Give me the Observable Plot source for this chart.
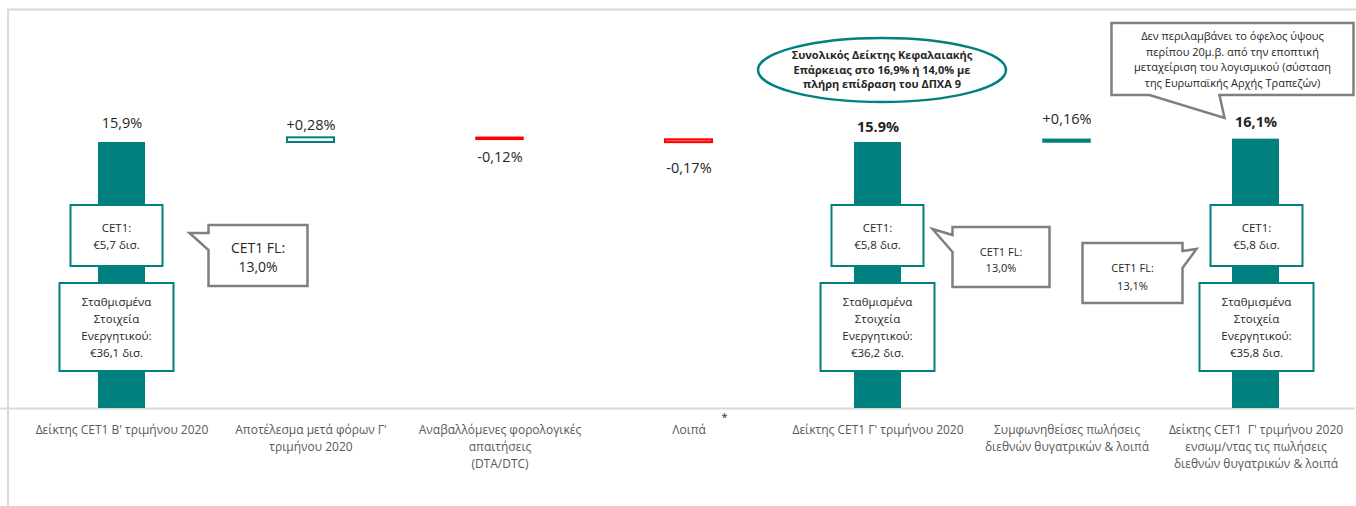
<!DOCTYPE html>
<html><head><meta charset="utf-8">
<script src="https://cdn.jsdelivr.net/npm/d3@7"></script>
<script src="https://cdn.jsdelivr.net/npm/@observablehq/plot@0.6"></script>
<style>body{margin:0;background:#fff;} svg{display:block;}</style>
</head><body><div id="chart"></div>
<script>
// ---------- data ----------
const categories = [
  "Δείκτης CET1 Β' τριμήνου 2020",
  "Αποτέλεσμα μετά φόρων Γ'\nτριμήνου 2020",
  "Αναβαλλόμενες φορολογικές\nαπαιτήσεις\n(DTA/DTC)",
  "Λοιπά",
  "Δείκτης CET1 Γ' τριμήνου 2020",
  "Συμφωνηθείσες πωλήσεις\nδιεθνών θυγατρικών & λοιπά",
  "Δείκτης CET1  Γ' τριμήνου 2020\nενσωμ/ντας τις πωλήσεις\nδιεθνών θυγατρικών & λοιπά"
];
const values = [15.9, 0.28, -0.12, -0.17, 15.9, 0.16, 16.1];
const kinds = ["total", "delta", "delta", "delta", "total", "delta", "total"];
const valueLabels = ["15,9%", "+0,28%", "-0,12%", "-0,17%", "15.9%", "+0,16%", "16,1%"];
const cet1Labels = [["CET1:", "€5,7 δισ."], ["CET1:", "€5,8 δισ."], ["CET1:", "€5,8 δισ."]];
const rwaLabels = [
  ["Σταθμισμένα", "Στοιχεία", "Ενεργητικού:", "€36,1 δισ."],
  ["Σταθμισμένα", "Στοιχεία", "Ενεργητικού:", "€36,2 δισ."],
  ["Σταθμισμένα", "Στοιχεία", "Ενεργητικού:", "€35,8 δισ."]
];
const flLabels = [["CET1 FL:", "13,0%"], ["CET1 FL:", "13,0%"], ["CET1 FL:", "13,1%"]];
const ellipseLines = ["Συνολικός Δείκτης Κεφαλαιακής", "Επάρκειας στο 16,9% ή 14,0% με", "πλήρη επίδραση του ΔΠΧΑ 9"];
const noteLines = ["Δεν περιλαμβάνει το όφελος ύψους", "περίπου 20μ.β. από την εποπτική", "μεταχείριση του λογισμικού (σύσταση", "της Ευρωπαϊκής Αρχής Τραπεζών)"];

// ---------- waterfall table ----------
let run = 0;
const rows = categories.map((cat, i) => {
  const v = values[i];
  let lo, hi;
  if (kinds[i] === "total") { lo = 0; hi = v; run = v; }
  else { lo = Math.min(run, run + v); hi = Math.max(run, run + v); run += v; }
  return {cat, i, v, lo, hi, kind: kinds[i], label: valueLabels[i]};
});

const TEAL = "#00807F", RED = "#FF0000";
const FONT = "Open Sans, sans-serif";
const barStyle = {
  0: {fill: TEAL, stroke: "none", sw: 0},
  1: {fill: "#ffffff", stroke: TEAL, sw: 2},
  2: {fill: RED, stroke: RED, sw: 1.5},
  3: {fill: "#FF8A8A", stroke: RED, sw: 2},
  4: {fill: TEAL, stroke: "none", sw: 0},
  5: {fill: TEAL, stroke: TEAL, sw: 1.5},
  6: {fill: TEAL, stroke: "none", sw: 0}
};
const labelDy = [-19, -12, 18, 26, -15, -20, -17];
const labelBold = [false, false, false, false, true, false, true];

const plot = Plot.plot({
  width: 1356, height: 506,
  style: {fontFamily: FONT, background: "#fff"},
  x: {domain: categories, range: [25, 1351], paddingInner: 0.752, paddingOuter: 0.379, axis: null},
  y: {domain: [0, 20], range: [408, 73.4], axis: null},
  marks: [
    Plot.ruleY([0], {stroke: "#D9D9D9", strokeWidth: 2}),
    ...rows.map(r => Plot.barY([r], {x: "cat", y1: "lo", y2: "hi",
      fill: barStyle[r.i].fill, stroke: barStyle[r.i].stroke, strokeWidth: barStyle[r.i].sw})),
    ...rows.map(r => Plot.text([r], {x: "cat", y: r.v < 0 ? "lo" : "hi", text: "label",
      dy: labelDy[r.i], lineAnchor: "middle", fontSize: 14.5, fill: "#262626",
      fontWeight: labelBold[r.i] ? "bold" : "normal"})),
    Plot.text(categories, {x: d => d, y: 0, text: d => d, lineAnchor: "top", dy: 13,
      fontSize: 12, lineHeight: 1.42, fill: "#595959"})
  ]
});
document.getElementById("chart").appendChild(plot);

// ---------- annotations ----------
const svg = d3.select(plot);
const xs = plot.scale("x"), ys = plot.scale("y");
const cx = i => xs.apply(categories[i]) + xs.bandwidth / 2;
const base = ys.apply(0);
const g = svg.append("g").attr("font-family", FONT);

// slide frame
g.append("line").attr("x1", 7).attr("x2", 1356).attr("y1", 9.5).attr("y2", 9.5).attr("stroke", "#D9D9D9").attr("stroke-width", 2);
g.append("line").attr("x1", 8).attr("x2", 8).attr("y1", 9).attr("y2", 506).attr("stroke", "#D9D9D9").attr("stroke-width", 2);

function textBlock(x, yc, lines, fs, lh, weight) {
  const t = g.append("text").attr("text-anchor", "middle").attr("font-size", fs)
    .attr("fill", "#262626").attr("font-weight", weight || "normal");
  lines.forEach((s, k) => t.append("tspan").attr("x", x)
    .attr("y", yc + (k - (lines.length - 1) / 2) * lh).attr("dominant-baseline", "central").text(s));
}
function boxPath(x, y, w, h, ptr) {
  if (!ptr) return `M${x},${y}H${x + w}V${y + h}H${x}Z`;
  if (ptr.side === "left") return `M${x},${y}H${x + w}V${y + h}H${x}V${y + 25}L${ptr.tx},${ptr.ty}L${x},${y + 8}Z`;
  if (ptr.side === "right") return `M${x},${y}H${x + w}V${y + 8}L${ptr.tx},${ptr.ty}L${x + w},${y + 25}V${y + h}H${x}Z`;
  return `M${x},${y}H${x + w}V${y + h}H${ptr.b2}L${ptr.tx},${ptr.ty}L${ptr.b1},${y + h}H${x}Z`;
}
function callout({x, y, w, h, stroke, sw, lines, fs, lh, ptr, weight, tyOff}) {
  g.append("path").attr("d", boxPath(x, y, w, h, ptr)).attr("fill", "#fff")
    .attr("stroke", stroke).attr("stroke-width", sw).attr("stroke-linejoin", "miter");
  textBlock(x + w / 2, y + h / 2 + (tyOff || 0), lines, fs, lh, weight);
}

const totalsIdx = [0, 4, 6];
const boxDx = [-5, 0, 1];
totalsIdx.forEach((bi, k) => {
  const c = cx(bi) + boxDx[k];
  callout({x: c - 46, y: base - 203, w: 92, h: 61, stroke: TEAL, sw: 2, lines: cet1Labels[k], fs: 11.5, lh: 17});
  callout({x: c - 57, y: base - 125, w: 114, h: 88, stroke: TEAL, sw: 2, lines: rwaLabels[k], fs: 11.5, lh: 16.8});
});

// CET1 FL gray callouts
const GRAY = "#7F7F7F";
{
  const c = cx(0), x = c + 87, y = base - 183;
  callout({x, y, w: 99, h: 61, stroke: GRAY, sw: 2.5, lines: flLabels[0], fs: 14, lh: 19, tyOff: 1,
    ptr: {side: "left", tx: x - 19, ty: y + 8}});
}
{
  const c = cx(4), x = c + 75, y = base - 181;
  callout({x, y, w: 97, h: 60, stroke: GRAY, sw: 2.5, lines: flLabels[1], fs: 11, lh: 16, tyOff: 2,
    ptr: {side: "left", tx: x - 20, ty: y + 2}});
}
{
  const c = cx(6), x = c - 173, y = base - 165;
  callout({x, y, w: 100, h: 60, stroke: GRAY, sw: 2.5, lines: flLabels[2], fs: 11, lh: 18, tyOff: 3,
    ptr: {side: "right", tx: x + 114, ty: y + 6}});
}
// top note callout
{
  const c = cx(6), x = c - 144, y = base - 385;
  callout({x, y, w: 242, h: 72, stroke: GRAY, sw: 2.5, lines: noteLines, fs: 11, lh: 15.5,
    ptr: {side: "bottom", b1: x + 38, b2: x + 108, tx: c - 31, ty: base - 290}});
}
// ellipse
{
  const c = cx(4) + 4.5, yc = base - 338;
  g.append("ellipse").attr("cx", c).attr("cy", yc).attr("rx", 124).attr("ry", 32)
    .attr("fill", "#fff").attr("stroke", TEAL).attr("stroke-width", 2.5);
  textBlock(c, yc - 1, ellipseLines, 11, 14.5, "bold");
}
// asterisk next to "Λοιπά"
g.append("text").attr("x", cx(3) + 36).attr("y", base + 13).attr("text-anchor", "middle")
  .attr("font-size", 11).attr("fill", "#262626").text("*");
</script></body></html>
